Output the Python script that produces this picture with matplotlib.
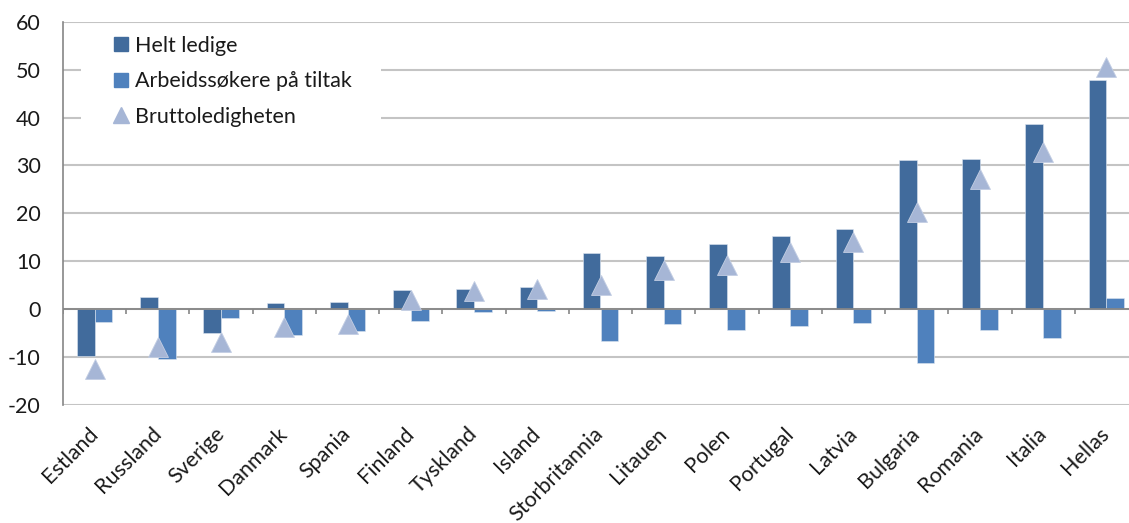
import numpy as np
import matplotlib.pyplot as plt
from matplotlib.lines import Line2D
from matplotlib.patches import Rectangle

plt.rcParams['font.family'] = ['Lato', 'DejaVu Sans']
plt.rcParams['axes.unicode_minus'] = False

countries = ["Estland", "Russland", "Sverige", "Danmark", "Spania", "Finland",
             "Tyskland", "Island", "Storbritannia", "Litauen", "Polen", "Portugal",
             "Latvia", "Bulgaria", "Romania", "Italia", "Hellas"]
helt_ledige = [-9.7, 2.6, -5.0, 1.3, 1.5, 4.0, 4.2, 4.7, 11.8, 11.0, 13.6,
               15.3, 16.8, 31.2, 31.3, 38.7, 47.9]
tiltak = [-2.7, -10.4, -1.9, -5.3, -4.6, -2.4, -0.6, -0.4, -6.7, -3.0, -4.4,
          -3.5, -2.9, -11.2, -4.3, -6.0, 2.4]
brutto = [-12.4, -7.9, -6.9, -3.8, -3.0, 1.9, 3.7, 4.3, 5.1, 8.1, 9.3,
          11.9, 14.1, 20.2, 27.1, 32.8, 50.5]
yticks = [-20, -10, 0, 10, 20, 30, 40, 50, 60]

DARK = "#416b9c"
LIGHT = "#4f81bd"
TRI = "#a6b6d6"
GRID = "#c4c4c4"
AXIS = "#868686"
TXT = "#1a1a1a"
FS = 15.5

W, H = 1129, 523
fig = plt.figure(figsize=(W / 100, H / 100), dpi=100)
# plot area runs a bit past the right edge of the picture
ax = fig.add_axes([63 / W, 1 - 405 / H, (1138 - 63) / W, (405 - 21.7) / H])

x = np.arange(len(countries))
bw = 0.28
ax.bar(x - bw / 2, helt_ledige, bw, color=DARK, edgecolor="#dde5f0",
       linewidth=0.4, zorder=2)
ax.bar(x + bw / 2, tiltak, bw, color=LIGHT, edgecolor="#dde5f0",
       linewidth=0.4, zorder=2)
ax.plot(x, brutto, linestyle="none", marker="^", markersize=14,
        color=TRI, markeredgecolor="#c3cee3", markeredgewidth=0.6, zorder=4)

ax.set_xlim(-0.5, len(countries) - 0.5)
ax.set_ylim(-20, 60)
ax.set_yticks(yticks)
ax.yaxis.grid(True, color=GRID, linewidth=1.5, zorder=0)
ax.set_axisbelow(True)

for s in ["top", "right", "bottom"]:
    ax.spines[s].set_visible(False)
ax.spines["left"].set_color(AXIS)
ax.spines["left"].set_linewidth(1.2)

# category axis at zero with tick marks between groups
ax.axhline(0, color=AXIS, linewidth=1.3, zorder=3)
bounds = np.arange(len(countries) + 1) - 0.5
ax.vlines(bounds, -1.1, 0, color=AXIS, linewidth=1.2, zorder=3)

ax.tick_params(axis="y", length=0, pad=16, labelsize=FS, labelcolor=TXT)
ax.set_xticks(x)
ax.set_xticklabels(countries, rotation=45, ha="right", va="center",
                   rotation_mode="anchor", fontsize=FS, color=TXT)
ax.tick_params(axis="x", length=0, pad=18.5)

# white box behind legend hiding gridlines
box = Rectangle((81 / W, 1 - 142 / H), 300 / W, 116 / H,
                transform=fig.transFigure, facecolor="white",
                edgecolor="none", zorder=1)
fig.add_artist(box)

handles = [
    Line2D([], [], linestyle="none", marker="s", markersize=9.7, color=DARK),
    Line2D([], [], linestyle="none", marker="s", markersize=9.7, color=LIGHT),
    Line2D([], [], linestyle="none", marker="^", markersize=11.3, color=TRI),
]
labels = ["Helt ledige", "Arbeidssøkere på tiltak", "Bruttoledigheten"]
leg = fig.legend(handles, labels, loc="upper left",
                 bbox_to_anchor=(113.5 / W, 1 - 36 / H),
                 bbox_transform=fig.transFigure, frameon=False,
                 fontsize=FS, handlelength=0.7, handletextpad=0.3,
                 labelspacing=0.71, borderpad=0, borderaxespad=0)
leg.set_zorder(5)
for t in leg.get_texts():
    t.set_color(TXT)

fig.savefig("out.png", dpi=100)
